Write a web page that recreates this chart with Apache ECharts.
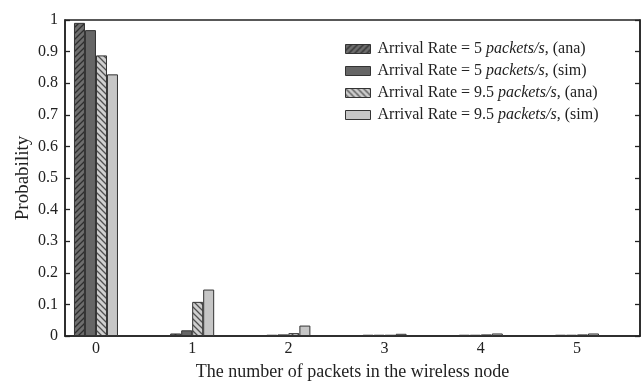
<!DOCTYPE html>
<html><head><meta charset="utf-8">
<script src="https://cdn.jsdelivr.net/npm/echarts@6/dist/echarts.min.js"></script>
<style>html,body{margin:0;padding:0;background:#fff}#c{width:642px;height:383px}</style>
</head><body><div id="c"></div>
<script>
var categories = [0, 1, 2, 3, 4, 5];
var ana5 = [0.991, 0.008, 0.004, 0.004, 0.004, 0.004];
var sim5 = [0.968, 0.018, 0.005, 0.004, 0.004, 0.004];
var ana95 = [0.888, 0.108, 0.009, 0.004, 0.005, 0.005];
var sim95 = [0.828, 0.147, 0.033, 0.007, 0.008, 0.008];
var yTicks = [0, 0.1, 0.2, 0.3, 0.4, 0.5, 0.6, 0.7, 0.8, 0.9, 1];
var names = ['ana5', 'sim5', 'ana95', 'sim95'];
var legendLabels = {
  ana5: 'Arrival Rate = 5 {i|packets/s}, (ana)',
  sim5: 'Arrival Rate = 5 {i|packets/s}, (sim)',
  ana95: 'Arrival Rate = 9.5 {i|packets/s}, (ana)',
  sim95: 'Arrival Rate = 9.5 {i|packets/s}, (sim)'
};

function hatch(bg, fg, dir) {
  var s = 6, c = document.createElement('canvas');
  c.width = s; c.height = s;
  var g = c.getContext('2d');
  g.fillStyle = bg; g.fillRect(0, 0, s, s);
  g.strokeStyle = fg; g.lineWidth = 1.3;
  g.beginPath();
  if (dir > 0) {
    g.moveTo(0, s); g.lineTo(s, 0);
    g.moveTo(-s, s); g.lineTo(s, -s);
    g.moveTo(0, 2 * s); g.lineTo(2 * s, 0);
  } else {
    g.moveTo(0, 0); g.lineTo(s, s);
    g.moveTo(-s, 0); g.lineTo(s, 2 * s);
    g.moveTo(0, -s); g.lineTo(2 * s, s);
  }
  g.stroke();
  return { image: c, repeat: 'repeat' };
}

function pairs(arr) { return categories.map(function (c, i) { return [c, arr[i]]; }); }

var font = 'Liberation Serif';
var styles = {
  ana5: hatch('#6e6e6e', '#2e2e2e', 1),
  sim5: '#666666',
  ana95: hatch('#cfcfcf', '#505050', -1),
  sim95: '#c6c6c6'
};
var dataMap = { ana5: ana5, sim5: sim5, ana95: ana95, sim95: sim95 };

var chart = echarts.init(document.getElementById('c'), null, { renderer: 'canvas' });
var yAxisCommon = {
  type: 'value', min: 0, max: 1, interval: 0.1,
  splitLine: { show: false },
  axisLine: { show: true, onZero: false, lineStyle: { color: '#222', width: 1.5 } },
  axisTick: { show: true, inside: true, length: 5, lineStyle: { color: '#222', width: 1.3 } }
};
chart.setOption({
  animation: false,
  backgroundColor: '#fff',
  grid: { left: 65, right: 2, top: 20, bottom: 47, show: true, borderColor: '#222', borderWidth: 1.5,
    backgroundColor: 'transparent', containLabel: false, outerBoundsMode: 'none' },
  legend: {
    data: names.map(function (n) { return { name: n, icon: 'rect' }; }),
    orient: 'vertical',
    left: 340, top: 36,
    itemWidth: 25, itemHeight: 9, itemGap: 6,
    itemStyle: { borderColor: '#333', borderWidth: 1 },
    formatter: function (n) { return legendLabels[n]; },
    textStyle: {
      fontFamily: font, fontSize: 16, color: '#222', padding: [0, 0, 0, 2],
      rich: { i: { fontFamily: font, fontSize: 16, fontStyle: 'italic', color: '#222' } }
    }
  },
  xAxis: {
    type: 'value', min: -0.322, max: 5.655,
    name: 'The number of packets in the wireless node',
    nameLocation: 'middle', nameGap: 27,
    nameTextStyle: { fontFamily: font, fontSize: 18, color: '#222' },
    splitLine: { show: false },
    axisLine: { show: true, onZero: false, lineStyle: { color: '#222', width: 1.5 } },
    axisTick: { show: false },
    axisLabel: { customValues: categories, fontFamily: font, fontSize: 16, color: '#222', margin: 5 }
  },
  yAxis: [
    Object.assign({}, yAxisCommon, {
      position: 'left',
      name: 'Probability', nameLocation: 'middle', nameGap: 32, nameMoveOverlap: false,
      nameTextStyle: { fontFamily: font, fontSize: 19, color: '#222' },
      axisLabel: { fontFamily: font, fontSize: 16, color: '#222', margin: 7,
        formatter: function (v) { return String(Math.round(v * 10) / 10); } }
    }),
    Object.assign({}, yAxisCommon, { position: 'right', axisLabel: { show: false } })
  ],
  series: names.map(function (n) {
    return {
      name: n, type: 'bar', data: pairs(dataMap[n]),
      barWidth: 11, barGap: '0%',
      itemStyle: { color: styles[n], borderColor: '#333', borderWidth: 1 }
    };
  })
});
</script></body></html>
